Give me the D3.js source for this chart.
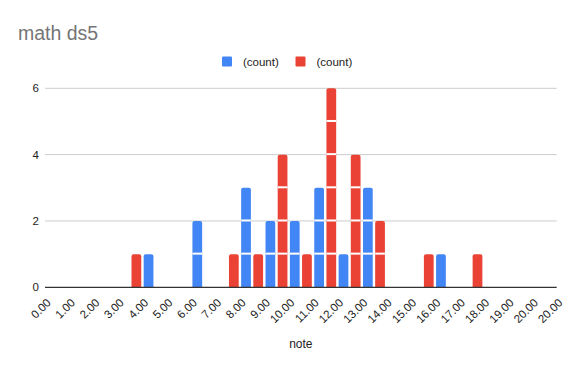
<!DOCTYPE html>
<html><head><meta charset="utf-8">
<script src="https://cdn.jsdelivr.net/npm/d3@7"></script>
<style>
html,body{margin:0;padding:0;background:#fff;}
text{font-family:"Liberation Sans",Arial,sans-serif;}
</style></head>
<body><svg id="c" width="575" height="371"></svg>
<script>
// ---- data ----
const buckets = d3.range(0, 21);               // 21 buckets of width 1
const tickLabels = ["0.00","1.00","2.00","3.00","4.00","5.00","6.00","7.00","8.00","9.00","10.00",
  "11.00","12.00","13.00","14.00","15.00","16.00","17.00","18.00","19.00","20.00","20.00"];
const seriesNames = ["(count)", "(count)"];
const seriesColors = ["#4285f4", "#ea4335"];
const blueCounts = [0,0,0,0,1,0,2,0,3,2,2,3,1,3,0,0,1,0,0,0,0];
const redCounts  = [0,0,0,1,0,0,0,1,1,4,1,6,4,2,0,1,0,1,0,0,0];
const yTicks = [0, 2, 4, 6];
const chartTitle = "math ds5";
const xTitle = "note";

(function () {
const svg = d3.select("#c");
const pL = 45, pR = 556.7, pT = 88.3, pB = 287.3;

const x = d3.scaleBand().domain(buckets).range([pL, pR]).padding(0);
const xs = d3.scaleBand().domain([0, 1]).range([0, x.bandwidth()]).paddingInner(0.2).paddingOuter(0.1);
const xt = d3.scaleLinear().domain([0, 21]).range([pL, pR]);
const y = d3.scaleLinear().domain([0, 6]).range([pB, pT]);

// title
svg.append("text").attr("x", 18).attr("y", 40).attr("font-size", 19.5).attr("fill", "#757575").text(chartTitle);

// legend
const legendX = [222, 295.5];
seriesNames.forEach((n, i) => {
  svg.append("rect").attr("x", legendX[i]).attr("y", 56.5).attr("width", 10).attr("height", 10)
    .attr("rx", 1).attr("fill", seriesColors[i]);
  svg.append("text").attr("x", legendX[i] + 21).attr("y", 61.5).attr("dy", "0.35em")
    .attr("font-size", 11.5).attr("fill", "#222").text(n);
});

// gridlines
svg.append("g").selectAll("line").data(yTicks.filter(d => d > 0)).join("line")
  .attr("x1", pL).attr("x2", pR).attr("y1", d => y(d)).attr("y2", d => y(d))
  .attr("stroke", "#cccccc").attr("stroke-width", 1);

// y labels
svg.append("g").selectAll("text").data(yTicks).join("text")
  .attr("x", 39).attr("y", d => y(d)).attr("dy", "0.35em").attr("text-anchor", "end")
  .attr("font-size", 11.5).attr("fill", "#222").text(d => d);

// bars
function barPath(x0, w, y0, y1, r) {
  return `M${x0},${y0}V${y1 + r}Q${x0},${y1} ${x0 + r},${y1}H${x0 + w - r}Q${x0 + w},${y1} ${x0 + w},${y1 + r}V${y0}Z`;
}
const series = [blueCounts, redCounts];
series.forEach((vals, si) => {
  const g = svg.append("g");
  buckets.forEach((b, bi) => {
    const v = vals[bi];
    if (!v) return;
    const x0 = x(b) + xs(si), w = xs.bandwidth();
    g.append("path").attr("d", barPath(x0, w, y(0), y(v), 2)).attr("fill", seriesColors[si]);
    for (let k = 1; k < v; k++) {
      g.append("line").attr("x1", x0).attr("x2", x0 + w).attr("y1", y(k) - 0.5).attr("y2", y(k) - 0.5)
        .attr("stroke", "#fff").attr("stroke-width", 2);
    }
  });
});

// baseline
svg.append("line").attr("x1", pL).attr("x2", pR).attr("y1", pB).attr("y2", pB)
  .attr("stroke", "#333").attr("stroke-width", 1.3);

// x labels
svg.append("g").selectAll("text").data(tickLabels).join("text")
  .attr("transform", (d, i) => `translate(${xt(i) + 6.5},${303.5}) rotate(-45)`)
  .attr("text-anchor", "end").attr("font-size", 11.5).attr("fill", "#222").text(d => d);

// x title
svg.append("text").attr("x", (pL + pR) / 2).attr("y", 348).attr("text-anchor", "middle")
  .attr("font-size", 12).attr("fill", "#222").text(xTitle);
})();
</script></body></html>
